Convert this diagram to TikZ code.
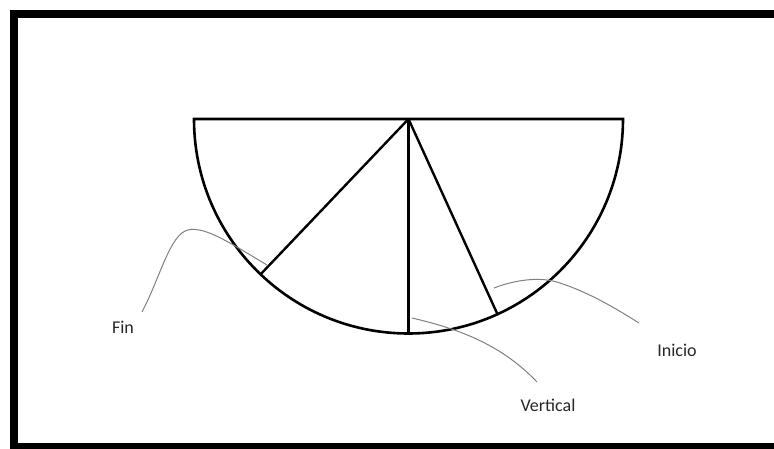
\documentclass[tikz,border=0pt]{standalone}
\usepackage{fontspec}
\setmainfont{Carlito}
\usepackage{tikz}
\usetikzlibrary{calc,positioning}

\begin{document}
\begin{tikzpicture}[x=1pt, y=1pt,
  frame/.style={draw=black, line width=8pt},
  bowl/.style={draw=black, line width=2.6pt, line join=miter},
  ray/.style={draw=black, line width=2.4pt},
  leader/.style={draw=black!50, line width=1pt},
  tag/.style={font=\fontsize{18}{20}\selectfont, text=black!85, inner sep=0pt}
]
  \path[use as bounding box, clip] (0,0) rectangle (774,448);
  \draw[frame] (14,1) rectangle (800,434);

  \coordinate (ctr) at (408.5,329);
  \coordinate (left) at (194,329);
  \coordinate (right) at (623,329);
  \coordinate (fin) at ($(ctr)+(226.4:214.5)$);
  \coordinate (vert) at ($(ctr)+(270:214.5)$);
  \coordinate (ini) at ($(ctr)+(294.5:214.5)$);

  \draw[bowl] (right) -- (left) arc[start angle=180, end angle=360, radius=214.5] -- cycle;
  \draw[ray] (ctr) -- (fin);
  \draw[ray] (ctr) -- (vert);
  \draw[ray] (ctr) -- (ini);

  \node[tag] (lfin) at (123,121) {Fin};
  \node[tag] (lvert) at (548,43) {Vertical};
  \node[tag] (lini) at (677,98) {Inicio};

  \coordinate (sfin) at (267,183);
  \coordinate (svert) at (412,130);
  \coordinate (sini) at (494,160);
  \coordinate (efin) at (142,136);
  \coordinate (evert) at (537,66);
  \coordinate (eini) at (639,125);

  \draw[leader] (sfin) .. controls (230,205) and (205,222) .. (188,218)
    .. controls (170,214) and (160,170) .. (efin);
  \draw[leader] (svert) .. controls (455,120) and (500,105) .. (evert);
  \draw[leader] (sini) .. controls (515,168) and (540,172) .. (560,165)
    .. controls (590,155) and (615,140) .. (eini);
\end{tikzpicture}
\end{document}
